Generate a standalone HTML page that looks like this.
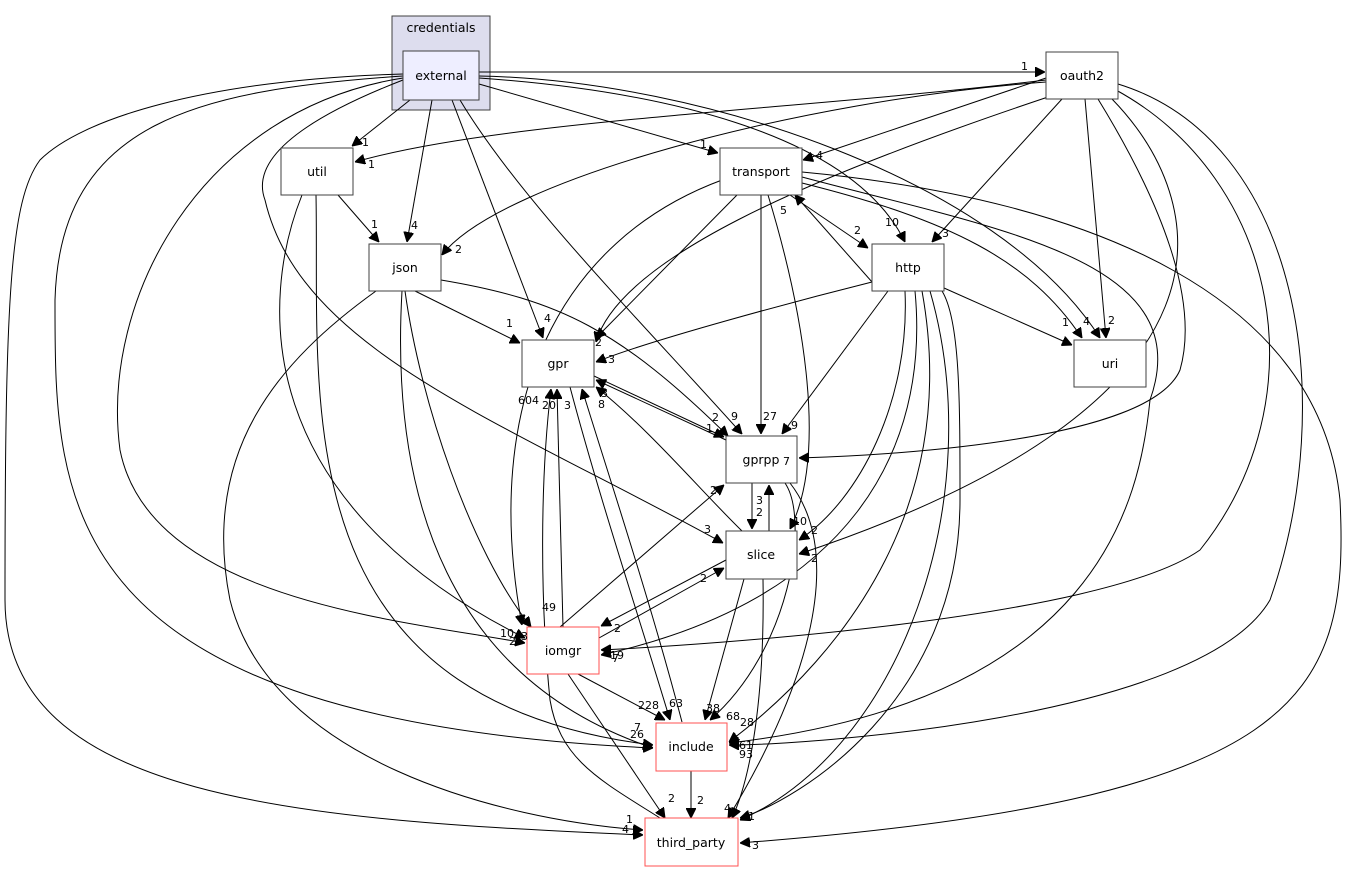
<!DOCTYPE html>
<html><head><meta charset="utf-8"><style>
body{margin:0;background:#fff}
svg{display:block}
text{font-family:"DejaVu Sans","Liberation Sans",sans-serif;font-size:11px;fill:#000}
.n{font-size:12.5px}
path{fill:none;stroke:#000;stroke-width:1}
</style></head><body>
<svg width="1347" height="873" viewBox="0 0 1347 873" xmlns="http://www.w3.org/2000/svg">
<defs><marker id="a" viewBox="0 0 10 10" refX="10" refY="5" markerWidth="10" markerHeight="10" markerUnits="userSpaceOnUse" orient="auto"><path d="M0,0 L10,5 L0,10 z" style="fill:#000;stroke:#000"/></marker></defs>
<rect x="392" y="16" width="98" height="94" fill="#ddddee" stroke="#404040"/>
<text x="441" y="32" text-anchor="middle" class="n">credentials</text>
<g marker-end="url(#a)">
<path d="M479,72 L1045,72"/>
<path d="M410,100 L352,146"/>
<path d="M479,84 L718,153"/>
<path d="M432,100 L407,242"/>
<path d="M452,100 L543,338"/>
<path d="M460,100 C520,200 640,320 742,434"/>
<path d="M479,78 C650,90 850,130 905,242"/>
<path d="M479,76 C700,80 1000,180 1100,338"/>
<path d="M403,80 C300,120 250,160 265,200 C300,350 500,420 723,543"/>
<path d="M403,78 C200,110 100,300 120,450 C150,600 400,620 525,643"/>
<path d="M403,76 C200,90 60,120 55,300 C55,500 50,720 653,748"/>
<path d="M403,74 C200,80 80,120 40,160 C10,200 5,300 5,600 C5,800 300,820 643,835"/>
<path d="M1046,80 C800,110 500,120 355,162"/>
<path d="M1046,78 L803,160"/>
<path d="M1046,82 C800,100 500,180 442,255"/>
<path d="M1048,97 C800,180 620,260 596,342"/>
<path d="M1062,99 L932,242"/>
<path d="M1085,99 L1106,338"/>
<path d="M1098,99 C1160,200 1200,300 1180,370 C1150,440 900,455 799,458"/>
<path d="M1112,99 C1210,200 1260,400 799,554"/>
<path d="M1116,90 C1280,180 1320,400 1200,550 C1100,620 700,645 601,650"/>
<path d="M1118,84 C1300,140 1340,400 1270,600 C1200,720 800,745 729,745"/>
<path d="M338,195 L379,242"/>
<path d="M302,195 C260,300 250,500 525,638"/>
<path d="M316,195 C320,400 280,700 653,745"/>
<path d="M790,195 L868,248"/>
<path d="M737,195 L596,338"/>
<path d="M761,195 L761,434"/>
<path d="M768,195 C800,300 830,450 790,529"/>
<path d="M722,180 C560,240 480,400 522,625"/>
<path d="M802,183 C950,220 1030,260 1082,338"/>
<path d="M802,177 C1000,230 1200,260 1150,400 C1140,500 1100,700 729,743"/>
<path d="M802,172 C1100,200 1320,300 1340,500 C1350,700 1300,800 740,843"/>
<path d="M880,291 L795,195"/>
<path d="M872,282 C800,300 650,340 596,362"/>
<path d="M888,291 L782,434"/>
<path d="M944,288 L1072,345"/>
<path d="M905,291 C910,400 860,500 799,540"/>
<path d="M915,291 C930,450 850,600 601,655"/>
<path d="M922,291 C960,500 850,650 729,742"/>
<path d="M930,291 C990,500 900,750 740,820"/>
<path d="M942,291 C960,320 960,400 960,500 C960,700 800,800 740,818"/>
<path d="M415,291 L520,343"/>
<path d="M441,280 C560,300 620,330 728,436"/>
<path d="M405,291 C420,400 470,550 531,627"/>
<path d="M402,291 C390,500 450,680 653,748"/>
<path d="M376,291 C280,360 200,450 230,600 C270,760 500,820 643,830"/>
<path d="M594,376 L724,437"/>
<path d="M726,440 L596,380"/>
<path d="M742,531 C700,490 650,430 596,387"/>
<path d="M570,387 C600,500 640,620 670,720"/>
<path d="M682,722 C650,600 610,480 582,389"/>
<path d="M563,627 L557,389"/>
<path d="M660,818 C600,780 560,760 550,700 C540,600 540,480 551,389"/>
<path d="M752,483 L752,529"/>
<path d="M769,531 L769,485"/>
<path d="M785,483 C810,520 790,650 710,720"/>
<path d="M790,483 C850,560 800,700 728,818"/>
<path d="M726,560 L601,626"/>
<path d="M599,638 L724,568"/>
<path d="M744,579 L705,720"/>
<path d="M763,579 C765,700 750,780 732,818"/>
<path d="M560,627 L724,485"/>
<path d="M578,674 L665,720"/>
<path d="M568,674 L665,818"/>
<path d="M691,770 L691,818"/>
</g>
<rect x="403" y="51" width="76" height="49" fill="#eeeeff" stroke="#404040"/><text x="441" y="80" text-anchor="middle" class="n">external</text>
<rect x="1046" y="52" width="72" height="47" fill="#fff" stroke="#404040"/><text x="1082" y="80" text-anchor="middle" class="n">oauth2</text>
<rect x="281" y="148" width="72" height="47" fill="#fff" stroke="#404040"/><text x="317" y="176" text-anchor="middle" class="n">util</text>
<rect x="720" y="148" width="82" height="47" fill="#fff" stroke="#404040"/><text x="761" y="176" text-anchor="middle" class="n">transport</text>
<rect x="369" y="244" width="72" height="47" fill="#fff" stroke="#404040"/><text x="405" y="272" text-anchor="middle" class="n">json</text>
<rect x="872" y="244" width="72" height="47" fill="#fff" stroke="#404040"/><text x="908" y="272" text-anchor="middle" class="n">http</text>
<rect x="522" y="340" width="72" height="47" fill="#fff" stroke="#404040"/><text x="558" y="368" text-anchor="middle" class="n">gpr</text>
<rect x="1074" y="340" width="72" height="47" fill="#fff" stroke="#404040"/><text x="1110" y="368" text-anchor="middle" class="n">uri</text>
<rect x="726" y="436" width="71" height="47" fill="#fff" stroke="#404040"/><text x="761" y="464" text-anchor="middle" class="n">gprpp</text>
<rect x="726" y="531" width="71" height="48" fill="#fff" stroke="#404040"/><text x="761" y="559" text-anchor="middle" class="n">slice</text>
<rect x="527" y="627" width="72" height="47" fill="#fff" stroke="#ff5050"/><text x="563" y="655" text-anchor="middle" class="n">iomgr</text>
<rect x="656" y="723" width="71" height="48" fill="#fff" stroke="#ff5050"/><text x="691" y="751" text-anchor="middle" class="n">include</text>
<rect x="645" y="818" width="93" height="48" fill="#fff" stroke="#ff5050"/><text x="691" y="847" text-anchor="middle" class="n">third_party</text>
<text x="1021" y="70">1</text><text x="362" y="146">1</text><text x="700" y="148">1</text><text x="411" y="229">4</text>
<text x="544" y="322">4</text><text x="731" y="420">9</text><text x="885" y="226">10</text><text x="1083" y="325">4</text>
<text x="704" y="533">3</text><text x="509" y="645">2</text><text x="630" y="738">26</text><text x="626" y="823">1</text><text x="622" y="833">4</text>
<text x="368" y="168">1</text><text x="816" y="159">4</text><text x="455" y="253">2</text><text x="595" y="346">2</text>
<text x="942" y="237">3</text><text x="1108" y="324">2</text><text x="783" y="465">7</text><text x="811" y="562">2</text>
<text x="610" y="659">19</text><text x="739" y="758">93</text><text x="371" y="228">1</text><text x="521" y="640">3</text>
<text x="634" y="731">7</text><text x="854" y="234">2</text><text x="763" y="420">27</text>
<text x="793" y="525">10</text><text x="542" y="611">49</text><text x="1062" y="326">1</text><text x="739" y="749">61</text>
<text x="752" y="849">3</text><text x="780" y="214">5</text><text x="608" y="363">3</text><text x="791" y="429">9</text>
<text x="811" y="534">2</text><text x="612" y="662">7</text><text x="726" y="720">68</text><text x="748" y="820">1</text>
<text x="506" y="327">1</text><text x="712" y="421">2</text><text x="500" y="637">10</text><text x="724" y="812">4</text>
<text x="706" y="432">1</text><text x="601" y="397">3</text><text x="564" y="409">3</text><text x="598" y="408">8</text>
<text x="542" y="409">20</text><text x="518" y="404">604</text><text x="710" y="494">27</text><text x="756" y="504">3</text>
<text x="756" y="516">2</text><text x="740" y="726">28</text><text x="700" y="582">2</text><text x="614" y="632">2</text>
<text x="706" y="712">38</text><text x="638" y="709">228</text><text x="669" y="707">63</text>
<text x="668" y="802">2</text><text x="697" y="804">2</text>
</svg>
</body></html>
